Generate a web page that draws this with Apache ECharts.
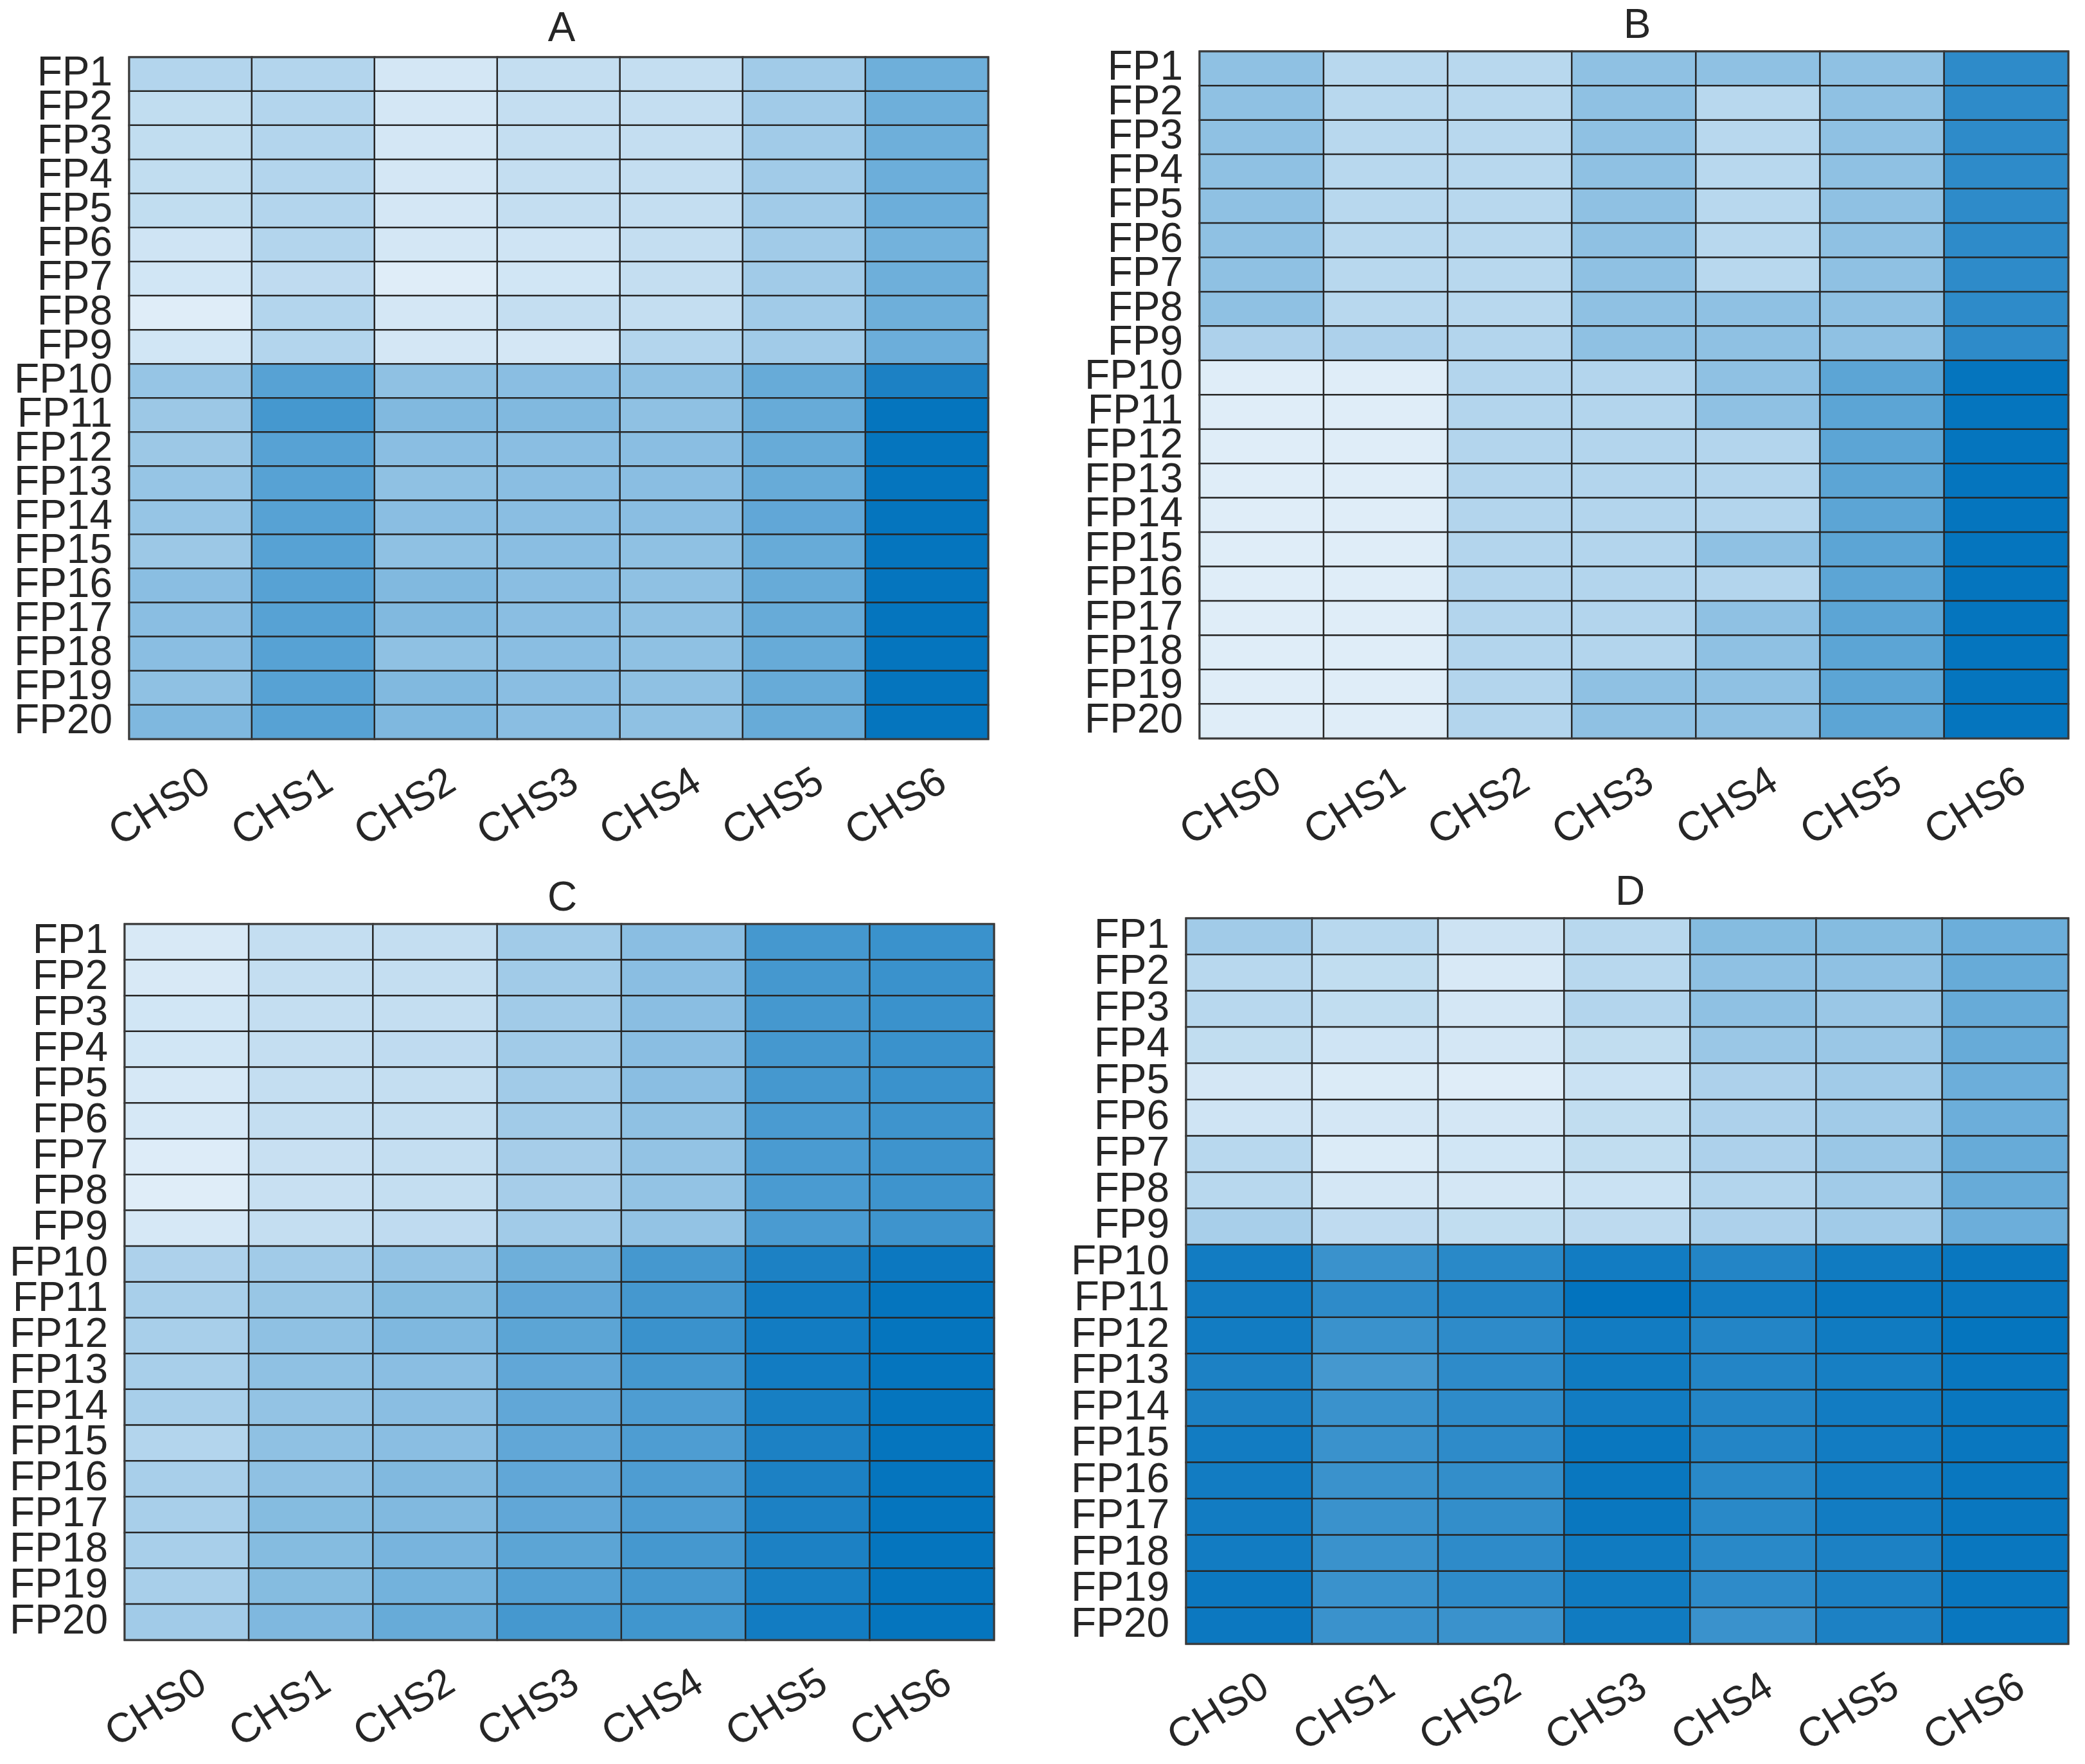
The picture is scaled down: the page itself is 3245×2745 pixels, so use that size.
<!DOCTYPE html>
<html>
<head>
<meta charset="utf-8">
<script src="https://cdn.jsdelivr.net/npm/echarts@6/dist/echarts.min.js"></script>
<style>html,body{margin:0;padding:0;background:#fff;}#c{width:3245px;height:2745px;}</style>
</head>
<body>
<div id="c"></div>
<script>
const xCats = ['CHS0','CHS1','CHS2','CHS3','CHS4','CHS5','CHS6'];
const yCats = ['FP1','FP2','FP3','FP4','FP5','FP6','FP7','FP8','FP9','FP10','FP11','FP12','FP13','FP14','FP15','FP16','FP17','FP18','FP19','FP20'];
const panelTitles = ['A','B','C','D'];

const panelA = [
  [22,22,8,15,15,30,52],
  [16,22,8,15,15,30,52],
  [16,22,8,15,15,30,52],
  [16,22,8,15,15,30,53],
  [16,22,8,15,15,30,53],
  [10,22,8,10,15,30,50],
  [9,17,3,9,15,30,52],
  [3,22,8,15,15,30,52],
  [9,22,8,8,22,30,53],
  [35,62,38,40,38,55,88],
  [32,70,44,44,38,55,98],
  [32,62,40,40,40,55,98],
  [35,62,38,40,40,55,98],
  [35,62,40,40,40,58,98],
  [32,62,38,40,38,55,98],
  [40,62,44,40,38,55,98],
  [40,62,44,40,38,55,98],
  [40,62,38,40,38,55,98],
  [38,62,44,40,38,55,98],
  [45,62,45,40,38,55,98]
];
const panelB = [
  [38,20,20,38,38,38,80],
  [38,20,20,38,20,38,80],
  [38,20,20,38,20,38,80],
  [38,20,20,38,20,38,80],
  [38,20,20,38,20,38,80],
  [38,20,20,38,20,38,80],
  [38,20,20,38,20,38,80],
  [38,20,20,38,38,38,80],
  [25,25,22,38,38,38,80],
  [3,3,22,22,38,60,98],
  [3,3,22,22,38,60,98],
  [3,3,22,22,22,60,98],
  [3,3,22,22,22,60,98],
  [3,3,22,22,22,60,98],
  [3,3,22,22,38,60,98],
  [3,3,22,22,22,60,98],
  [3,3,22,22,38,60,98],
  [3,3,22,22,38,60,98],
  [3,3,22,38,38,60,98],
  [3,3,22,38,38,60,98]
];
const panelC = [
  [6,15,15,30,40,70,75],
  [6,15,15,30,40,70,75],
  [9,15,15,30,40,70,75],
  [9,15,17,30,40,70,75],
  [7,15,15,30,40,70,75],
  [7,15,15,30,38,68,73],
  [4,13,15,28,36,68,73],
  [3,13,15,28,36,68,73],
  [7,15,17,30,36,68,73],
  [25,30,36,52,70,88,95],
  [27,34,42,58,70,92,98],
  [27,38,45,60,75,92,98],
  [27,38,40,58,70,92,98],
  [27,36,40,58,66,90,98],
  [22,38,40,58,66,88,98],
  [27,38,44,58,66,88,98],
  [27,42,44,58,66,88,98],
  [27,42,48,60,70,88,98],
  [27,42,50,64,70,90,98],
  [30,45,55,70,72,92,98]
];
const panelD = [
  [30,20,11,20,42,42,53],
  [20,16,6,20,38,38,55],
  [20,16,8,22,38,33,55],
  [16,10,8,16,33,33,55],
  [8,5,3,12,25,30,53],
  [10,8,8,16,25,30,53],
  [20,5,9,16,25,33,55],
  [20,8,8,12,22,30,55],
  [27,17,16,18,25,30,53],
  [92,75,82,92,85,93,96],
  [92,80,85,99,92,96,96],
  [92,75,80,92,85,93,98],
  [88,70,80,93,85,90,96],
  [88,75,80,92,85,92,96],
  [92,75,80,96,85,92,96],
  [92,75,78,96,82,92,96],
  [92,75,78,96,82,92,96],
  [92,75,80,93,82,88,96],
  [95,75,80,93,80,88,96],
  [95,75,75,93,75,88,96]
];
const panels = [panelA, panelB, panelC, panelD];

const grids = [
  {left: 201, top: 89, width: 1337, height: 1061},
  {left: 1867, top: 80, width: 1352, height: 1069},
  {left: 194, top: 1438, width: 1353, height: 1114},
  {left: 1846, top: 1429, width: 1373, height: 1129}
];
const titlePos = [[869, 45], [2543, 40], [870, 1398], [2532, 1389]];

const FONT = 'Liberation Sans';
const TXT = '#262626';
const FS = 64;

function toData(m) {
  const out = [];
  m.forEach((row, yi) => row.forEach((v, xi) => out.push([xi, yi, v])));
  return out;
}

const option = {
  backgroundColor: '#ffffff',
  animation: false,
  title: panelTitles.map((t, i) => ({
    text: t,
    left: titlePos[i][0],
    top: titlePos[i][1] - 36,
    textAlign: 'center',
    textStyle: {fontFamily: FONT, fontSize: FS, fontWeight: 'normal', color: TXT}
  })),
  grid: grids.map(g => Object.assign({show: true, borderColor: '#3a3a3a', borderWidth: 3, backgroundColor: 'transparent', z: 10}, g)),
  xAxis: grids.map((g, i) => ({
    type: 'category', gridIndex: i, data: xCats,
    axisLine: {show: false}, axisTick: {show: false}, splitLine: {show: false},
    axisLabel: {rotate: 32, margin: 78, padding: [0, -30, 0, 0], fontFamily: FONT, fontSize: FS, color: TXT}
  })),
  yAxis: grids.map((g, i) => ({
    type: 'category', gridIndex: i, data: yCats, inverse: true,
    axisLine: {show: false}, axisTick: {show: false}, splitLine: {show: false},
    axisLabel: {margin: 26, fontFamily: FONT, fontSize: FS, color: TXT, interval: 0}
  })),
  visualMap: {
    show: false, min: 0, max: 100, seriesIndex: [0, 1, 2, 3],
    inRange: {color: ['#e6f1fa', '#0072bd']}
  },
  series: panels.map((p, i) => ({
    type: 'heatmap', xAxisIndex: i, yAxisIndex: i,
    data: toData(p),
    itemStyle: {borderColor: '#262626', borderWidth: 2.5},
    emphasis: {disabled: true}
  }))
};

const chart = echarts.init(document.getElementById('c'));
chart.setOption(option);
</script>
</body>
</html>
